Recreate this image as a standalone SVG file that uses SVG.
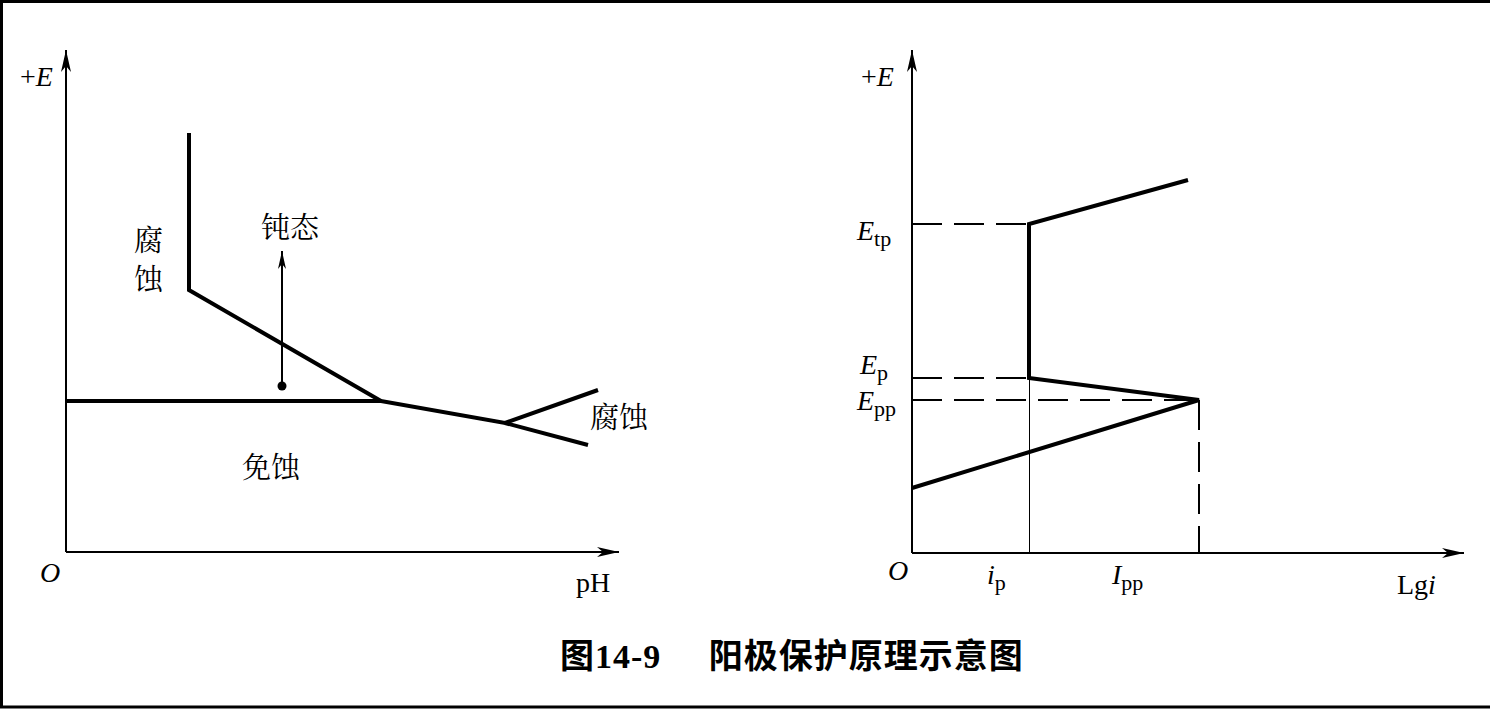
<svg xmlns="http://www.w3.org/2000/svg" width="1496" height="713" viewBox="0 0 1496 713">
<defs>
<marker id="arr" viewBox="0 0 22 10" refX="22" refY="5" markerWidth="22" markerHeight="10" markerUnits="userSpaceOnUse" orient="auto">
<path d="M0,0 L22,5 L0,10 L6,5 Z" fill="#000"/>
</marker>
<marker id="arrs" viewBox="0 0 18 8" refX="18" refY="4" markerWidth="18" markerHeight="8" markerUnits="userSpaceOnUse" orient="auto">
<path d="M0,0 L18,4 L0,8 L5,4 Z" fill="#000"/>
</marker>
</defs>
<style>
.ax{stroke:#000;stroke-width:2;fill:none}
.thick{stroke:#000;stroke-width:4;fill:none;stroke-linejoin:miter}
.dash{stroke:#000;stroke-width:2;fill:none;stroke-dasharray:30,12}
.thin{stroke:#000;stroke-width:1;fill:none}
.t{font-family:"Liberation Serif","Noto Sans CJK SC",serif;font-size:28px;fill:#000}
.ti{font-family:"Liberation Serif",serif;font-size:28px;font-style:italic;fill:#000}
.sub{font-family:"Liberation Serif",serif;font-size:22px;font-style:normal}
.cn{font-family:"Noto Serif CJK SC","Noto Sans CJK SC",serif;font-size:29px;fill:#000}
.cap{font-family:"Liberation Serif","Noto Sans CJK SC",sans-serif;font-size:34px;font-weight:bold;fill:#000}
</style>
<rect width="1496" height="713" fill="#fff"/>
<g id="frame">
<path d="M1490,1.5 H1.5 V707 H1490" stroke="#000" stroke-width="3" fill="none"/>
</g>
<g id="connectors">
<line class="ax" x1="66" y1="552" x2="66" y2="50" marker-end="url(#arr)"/>
<line class="ax" x1="66" y1="552" x2="619" y2="552" marker-end="url(#arr)"/>
<polyline class="thick" points="189,133 189,290 381,401"/>
<polyline class="thick" points="66,401 381,401 505,423 598,390"/>
<line class="thick" x1="505" y1="423" x2="588" y2="445"/>
<line class="ax" x1="282" y1="386" x2="282" y2="251" marker-end="url(#arrs)"/>
<circle cx="282" cy="386" r="4.5" fill="#000"/>

<line class="ax" x1="912" y1="553" x2="912" y2="50" marker-end="url(#arr)"/>
<line class="ax" x1="912" y1="553" x2="1464" y2="553" marker-end="url(#arr)"/>
<line class="dash" x1="912" y1="224" x2="1029" y2="224"/>
<line class="dash" x1="912" y1="378" x2="1029" y2="378"/>
<line class="dash" x1="912" y1="400" x2="1199" y2="400"/>
<line class="dash" x1="1199" y1="400" x2="1199" y2="553"/>
<line class="thin" x1="1029.5" y1="378" x2="1029.5" y2="553"/>
<polyline class="thick" points="1188,180 1029,224 1029,378 1199,400 912,488"/>
</g>
<g id="left-labels">
<text class="t" x="20" y="86">+<tspan font-style="italic">E</tspan></text>
<text class="ti" x="40" y="582">O</text>
<text class="t" x="576" y="592">pH</text>
<text class="cn" x="134" y="251" font-size="27">腐</text>
<text class="cn" x="134" y="290" font-size="27">蚀</text>
<text class="cn" x="261" y="238">钝态</text>
<text class="cn" x="590" y="428">腐蚀</text>
<text class="cn" x="242" y="478">免蚀</text>
</g>
<g id="right-labels">
<text class="t" x="861" y="86">+<tspan font-style="italic">E</tspan></text>
<text class="ti" x="857" y="240">E<tspan class="sub" dy="6">tp</tspan></text>
<text class="ti" x="860" y="374">E<tspan class="sub" dy="6">p</tspan></text>
<text class="ti" x="857" y="410">E<tspan class="sub" dy="6">pp</tspan></text>
<text class="ti" x="888" y="580">O</text>
<text class="ti" x="987" y="584">i<tspan class="sub" dy="6">p</tspan></text>
<text class="ti" x="1112" y="584">I<tspan class="sub" dy="6">pp</tspan></text>
<text class="t" x="1397" y="594">Lg<tspan font-style="italic">i</tspan></text>
</g>
<g id="caption">
<text class="cap" x="560" y="668" xml:space="preserve" letter-spacing="1">图14-9     阳极保护原理示意图</text>
</g>
</svg>
